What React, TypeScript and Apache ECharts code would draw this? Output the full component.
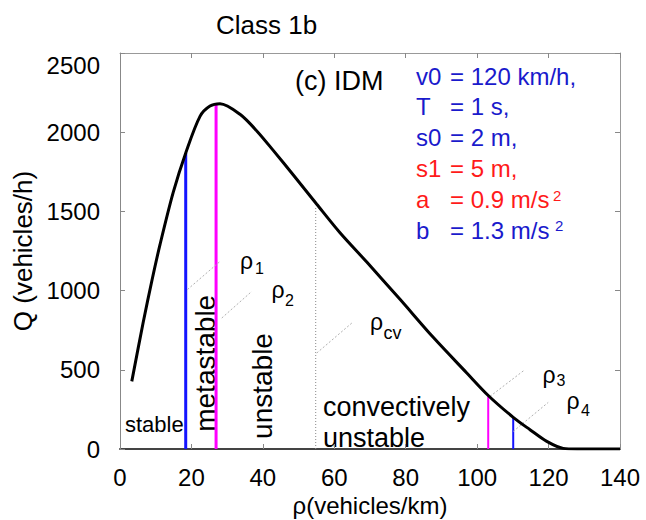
import React, { useEffect, useRef } from "react";
import * as echarts from "echarts";

// Fundamental diagram Q(rho)
const curveRho = [3.3, 6.5, 9, 11.2, 14.9, 18.5, 22.4, 25.2, 28, 33.6, 38.3, 42.9, 48.7, 55.1, 61.6, 69.1, 78.4, 87.7, 97.1, 103.1, 110.1, 114.8, 119.5, 124.1, 128, 140];
const curveQ = [427, 800, 1070, 1290, 1620, 1875, 2100, 2165, 2180, 2113, 2008, 1885, 1725, 1545, 1365, 1180, 945, 705, 480, 338, 200, 122, 48, 4, 0, 0];

// Stability boundaries rho1, rho2, rho3, rho4
const boundaryRho = [18.4, 26.9, 103.1, 110.1];
const boundaryTop = [1869, 2172, 332, 198];

// Convective boundary rho_cv
const cvRho = 54.8;
const cvTop = 1532;

// Pointer lines from boundaries to the labels
const pointerFrom = [[18.9, 1007], [28.5, 827], [55.1, 606], [103.6, 332], [110.1, 111]];
const pointerTo = [[28, 1184], [36.9, 995], [64.9, 795], [113.1, 496], [119.9, 294]];

const xTicks = [0, 20, 40, 60, 80, 100, 120, 140];
const yTicks = [0, 500, 1000, 1500, 2000, 2500];

const paramNames = ["v0", "T", "s0", "s1", "a", "b"];
const paramValues = ["= 120 km/h,", "= 1 s,", "= 2 m,", "= 5 m,", "= 0.9 m/s", "= 1.3 m/s"];

const FONT = "'Liberation Sans', Arial, Helvetica, sans-serif";
const BLUE = "#1a1acc";
const RED = "#ff1a1a";

function txt(text: string, x: number, y: number, fontSize: number, extra: any = {}) {
  const { fill, align, rotation, ...rest } = extra;
  return {
    type: "text",
    x,
    y,
    rotation: rotation || 0,
    silent: true,
    style: {
      text,
      x: 0,
      y: 0,
      fill: fill || "#000",
      fontSize,
      fontFamily: FONT,
      align: align || "left",
      textAlign: align || "left",
      verticalAlign: "middle",
      textVerticalAlign: "middle",
    },
    ...rest,
  };
}

export default function App() {
  const ref = useRef<HTMLDivElement>(null);
  useEffect(() => {
    if (!ref.current) return;
    const chart = echarts.init(ref.current, undefined, { renderer: "svg" });

    const boundaryColors = ["#1414ff", "#ff00ff", "#ff00ff", "#1414ff"];
    const boundaryWidths = [3, 3, 2, 2];

    const series: any[] = [
      ...boundaryRho.map((r, i) => ({
        type: "line",
        data: [[r, 0], [r, boundaryTop[i]]],
        showSymbol: false,
        silent: true,
        lineStyle: { color: boundaryColors[i], width: boundaryWidths[i] },
      })),
      {
        type: "line",
        data: [[cvRho, 0], [cvRho, cvTop]],
        showSymbol: false,
        silent: true,
        lineStyle: { color: "#888", width: 1, type: [1, 2] },
      },
      ...pointerFrom.map((p, i) => ({
        type: "line",
        data: [p, pointerTo[i]],
        showSymbol: false,
        silent: true,
        lineStyle: { color: "#b0b0b0", width: 1, type: [2, 2] },
      })),
      {
        type: "line",
        data: curveRho.map((r, i) => [r, curveQ[i]]),
        showSymbol: false,
        smooth: 0.3,
        silent: true,
        lineStyle: { color: "#000", width: 3 },
      },
    ];

    const paramColors = [BLUE, BLUE, BLUE, RED, RED, BLUE];
    const paramBase = 83.5;
    const paramStep = 30.8;
    const graphic: any[] = [];
    paramNames.forEach((n, i) => {
      const cy = paramBase + i * paramStep - 7.4;
      graphic.push(txt(n, 416, cy, 24, { fill: paramColors[i] }));
      graphic.push(txt(paramValues[i], 450, cy, 24, { fill: paramColors[i] }));
    });
    graphic.push(txt("2", 553, 195.4, 15, { fill: RED }));
    graphic.push(txt("2", 555, 225.4, 15, { fill: BLUE }));

    graphic.push(txt("(c) IDM", 295, 81, 27));
    graphic.push(txt("stable", 125, 424, 22));
    graphic.push(txt("metastable", 205.5, 363.3, 28, { align: "center", rotation: Math.PI / 2 }));
    graphic.push(txt("unstable", 262, 386, 28, { align: "center", rotation: Math.PI / 2 }));
    graphic.push(txt("convectively", 323, 406.6, 27));
    graphic.push(txt("unstable", 323, 438.3, 27));

    // rho labels with subscripts
    graphic.push(txt("ρ", 240, 261, 23));
    graphic.push(txt("1", 255, 268.3, 16));
    graphic.push(txt("ρ", 271.5, 290, 23));
    graphic.push(txt("2", 285, 300, 16));
    graphic.push(txt("ρ", 370, 321.6, 23));
    graphic.push(txt("cv", 383.5, 332.7, 18));
    graphic.push(txt("ρ", 542.5, 375, 23));
    graphic.push(txt("3", 556.5, 380.6, 16));
    graphic.push(txt("ρ", 566.5, 400.5, 23));
    graphic.push(txt("4", 581, 410.5, 16));

    const tickStyle = { show: true, inside: true, length: 5, lineStyle: { color: "#888", width: 1 } };

    chart.setOption({
      animation: false,
      backgroundColor: "#fff",
      textStyle: { fontFamily: FONT },
      title: {
        text: "Class 1b",
        left: 211,
        top: 7,
        textStyle: { fontSize: 26, fontWeight: "normal", color: "#000", fontFamily: FONT },
      },
      grid: { left: 120, right: 26, top: 53, bottom: 71, containLabel: false, outerBoundsMode: "none" },
      xAxis: [
        {
          type: "value",
          min: xTicks[0],
          max: xTicks[xTicks.length - 1],
          interval: 20,
          position: "bottom",
          name: "ρ(vehicles/km)",
          nameLocation: "middle",
          nameGap: 44,
          nameMoveOverlap: false,
          nameTextStyle: { fontSize: 24, color: "#000", fontFamily: FONT },
          axisLine: { show: true, onZero: false, lineStyle: { color: "#444", width: 2 } },
          axisTick: tickStyle,
          axisLabel: { fontSize: 24, color: "#000", margin: 16, fontFamily: FONT, formatter: (v: number) => String(v) },
          splitLine: { show: false },
        },
        {
          type: "value",
          min: xTicks[0],
          max: xTicks[xTicks.length - 1],
          interval: 20,
          position: "top",
          axisLine: { show: true, onZero: false, lineStyle: { color: "#999", width: 1 } },
          axisTick: tickStyle,
          axisLabel: { show: false },
          splitLine: { show: false },
        },
      ],
      yAxis: [
        {
          type: "value",
          min: yTicks[0],
          max: yTicks[yTicks.length - 1],
          interval: 500,
          position: "left",
          name: "Q (vehicles/h)",
          nameLocation: "middle",
          nameGap: 84,
          nameMoveOverlap: false,
          nameTextStyle: { fontSize: 26, color: "#000", fontFamily: FONT },
          axisLine: { show: true, onZero: false, lineStyle: { color: "#888", width: 1 } },
          axisTick: tickStyle,
          axisLabel: {
            fontSize: 24,
            color: "#000",
            margin: 20,
            fontFamily: FONT,
            verticalAlignMaxLabel: "top",
            formatter: (v: number) => String(v),
          },
          splitLine: { show: false },
        },
        {
          type: "value",
          min: yTicks[0],
          max: yTicks[yTicks.length - 1],
          interval: 500,
          position: "right",
          axisLine: { show: true, onZero: false, lineStyle: { color: "#999", width: 1 } },
          axisTick: tickStyle,
          axisLabel: { show: false },
          splitLine: { show: false },
        },
      ],
      series,
      graphic,
    });
    return () => chart.dispose();
  }, []);
  return (
    <div
      ref={ref}
      style={{ position: "fixed", left: 0, top: 0, width: 646, height: 520, background: "#fff" }}
    />
  );
}
